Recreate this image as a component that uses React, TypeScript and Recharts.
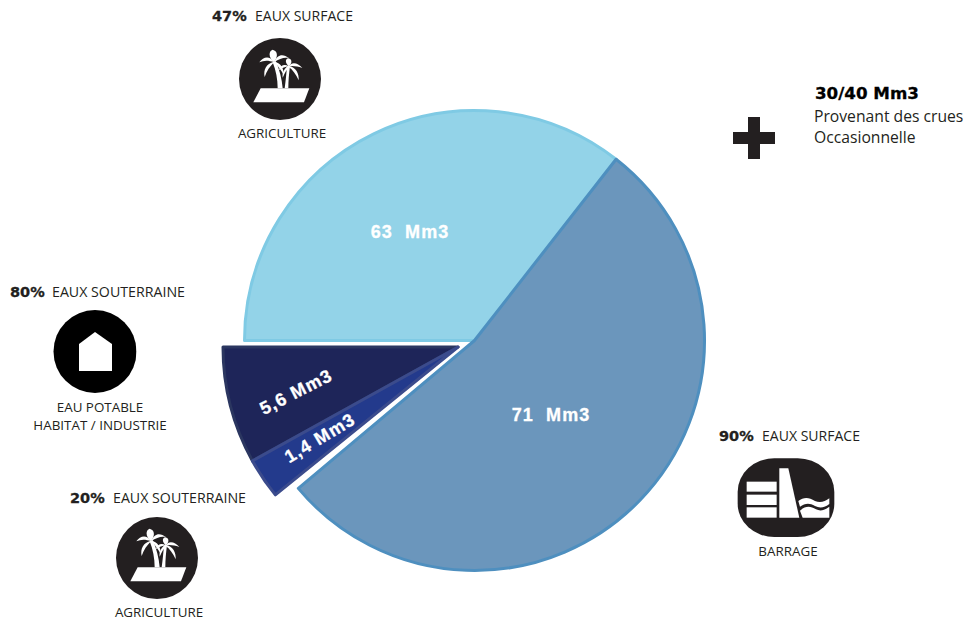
import * as React from "react"
import { Pie, PieChart, Cell } from "recharts"

// slice sweeps are read off the picture (degrees drawn), the drawing is not to scale with its labels
const mainNames = ["63  Mm3", "71  Mm3"]
const mainSweeps = [128, 192]
const mainFills = ["#93d3e8", "#6b96bc"]
const mainStrokes = ["#7fcae4", "#4e8fbf"]

const detachedNames = ["5,6 Mm3", "1,4 Mm3"]
const detachedSweeps = [29, 10]
const detachedFills = ["#1e2559", "#233a8c"]
const detachedStrokes = ["#2b3660", "#3b4b8c"]

const mainData = mainNames.map((name, i) => ({ name, value: mainSweeps[i] }))
const detachedData = detachedNames.map((name, i) => ({ name, value: detachedSweeps[i] }))

const INK = "#231f20"
const BODY_FONT = "'Open Sans', 'Noto Sans', sans-serif"
const HEAVY_FONT = "'DejaVu Sans', sans-serif"
const LABEL_FONT = "'Liberation Sans', Arial, sans-serif"

function Caption({ pctX, textX, y, pct, text }: { pctX: number; textX: number; y: number; pct: string; text: string }) {
  return (
    <>
      <text x={pctX} y={y} fontFamily={HEAVY_FONT} fontWeight={700} fontSize={14.5} fill={INK} stroke={INK} strokeWidth={0.3}>{pct}</text>
      <text x={textX} y={y} fontFamily={BODY_FONT} fontSize={14} fill={INK} textLength={text.length > 12 ? 133 : 98} lengthAdjust="spacingAndGlyphs">{text}</text>
    </>
  )
}

function Centered({ x, y, text }: { x: number; y: number; text: string }) {
  return <text x={x} y={y} textAnchor="middle" fontFamily={BODY_FONT} fontSize={13.4} fill={INK}>{text}</text>
}

// palm icon, path coordinates are the 3x zoom of the icon relative to its center
function PalmIcon({ cx, cy }: { cx: number; cy: number }) {
  return (
    <g transform={`translate(${cx} ${cy})`}>
      <circle r={41} fill={INK} />
      <g transform="scale(0.3333)" fill="#fff">
        <polygon points="-80,70 -58,28 88,28 72,70" />
        <path d="M-7,28 L8,28 C6,0 -2,-30 -13,-54 L-22,-50 C-12,-25 -7,0 -7,28 Z" />
        <path d="M14,28 L25,28 C25,5 27,-15 30,-38 L21,-38 C19,-15 17,8 14,28 Z" />
        <path d="M-18,-50 C-32,-72 -50,-66 -62,-50 C-48,-56 -34,-56 -18,-50 Z" />
        <path d="M-18,-50 C-36,-66 -34,-84 -22,-88 C-8,-84 -4,-70 -18,-50 Z" />
        <path d="M-18,-50 C-8,-76 10,-76 27,-63 C12,-66 0,-62 -18,-50 Z" />
        <path d="M-18,-52 C-42,-46 -50,-28 -46,-6 C-40,-24 -30,-38 -18,-50 Z" />
        <path d="M-18,-52 C2,-50 12,-32 12,-10 C4,-26 -6,-40 -18,-50 Z" />
        <path d="M26,-38 C14,-46 2,-42 -4,-26 C8,-34 16,-36 26,-38 Z" />
        <path d="M26,-38 C14,-50 16,-60 25,-62 C36,-60 38,-48 26,-38 Z" />
        <path d="M26,-38 C36,-54 54,-48 67,-33 C52,-38 40,-40 26,-38 Z" />
        <path d="M26,-40 C48,-36 58,-16 56,4 C48,-14 38,-28 26,-36 Z" />
        <path d="M26,-40 C12,-32 6,-18 8,-4 C14,-18 20,-28 28,-36 Z" />
      </g>
    </g>
  )
}

function HouseIcon() {
  return (
    <g>
      <clipPath id="houseClip"><rect x={50} y={305} width={86.5} height={95} /></clipPath>
      <circle cx={95} cy={351.5} r={41.5} fill="#000" clipPath="url(#houseClip)" />
      <polygon points="95,332 112,344 112,371 79,371 79,344" fill="#fff" />
    </g>
  )
}

function DamIcon() {
  return (
    <g transform="translate(700 420) scale(0.3333)">
      <rect x={113} y={115} width={290} height={236} rx={110} ry={100} fill={INK} />
      <g fill="#fff">
        <rect x={140} y={185} width={90} height={30} />
        <rect x={140} y={224} width={90} height={31} />
        <rect x={140} y={262} width={90} height={31} />
        <polygon points="238,145 265,145 298,293 238,293" />
        <path d="M295,243 C310,232 325,230 345,243 C360,250 375,245 388,235 L388,252 C375,262 360,266 345,258 C328,248 315,250 300,260 Z" />
        <path d="M300,272 C315,258 330,256 348,268 C362,275 375,270 388,260 L388,293 L308,293 Z" />
      </g>
    </g>
  )
}

function SliceLabel({ x, y, angle, text }: { x: number; y: number; angle?: number; text: string }) {
  return (
    <text
      x={x}
      y={y}
      textAnchor="middle"
      dominantBaseline="central"
      transform={angle ? `rotate(${angle} ${x} ${y})` : undefined}
      fontFamily={LABEL_FONT}
      fontWeight={700}
      fontSize={18}
      fill="#fff"
      stroke="#fff"
      strokeWidth={0.3}
      style={{ whiteSpace: "pre", letterSpacing: 1.1 }}
    >
      {text}
    </text>
  )
}

export default function App() {
  return (
    <div style={{ position: "absolute", left: 0, top: 0, width: 971, height: 623, background: "#fff", overflow: "hidden" }}>
      <PieChart width={971} height={623} margin={{ top: 0, right: 0, bottom: 0, left: 0 }}>
        <Pie
          data={mainData}
          dataKey="value"
          nameKey="name"
          cx={474.5}
          cy={340.5}
          innerRadius={0}
          outerRadius={230}
          startAngle={180}
          endAngle={-140}
          isAnimationActive={false}
          label={false}
          labelLine={false}
        >
          {mainData.map((d, i) => (
            <Cell key={d.name} fill={mainFills[i]} stroke={mainStrokes[i]} strokeWidth={3} strokeLinejoin="round" />
          ))}
        </Pie>
        <Pie
          data={detachedData}
          dataKey="value"
          nameKey="name"
          cx={458}
          cy={347}
          innerRadius={0}
          outerRadius={235}
          startAngle={180}
          endAngle={219}
          isAnimationActive={false}
          label={false}
          labelLine={false}
        >
          {detachedData.map((d, i) => (
            <Cell key={d.name} fill={detachedFills[i]} stroke={detachedStrokes[i]} strokeWidth={3} strokeLinejoin="round" />
          ))}
        </Pie>
      </PieChart>

      <svg width={971} height={623} style={{ position: "absolute", left: 0, top: 0, pointerEvents: "none" }}>
        <SliceLabel x={410} y={232} text={mainNames[0]} />
        <SliceLabel x={551} y={415} text={mainNames[1]} />
        <SliceLabel x={296} y={392} angle={-27} text={detachedNames[0]} />
        <SliceLabel x={320} y={438} angle={-31} text={detachedNames[1]} />

        <Caption pctX={212} textX={255} y={21} pct="47%" text="EAUX SURFACE" />
        <PalmIcon cx={280} cy={79} />
        <Centered x={282} y={138} text="AGRICULTURE" />

        <Caption pctX={10} textX={52} y={297} pct="80%" text="EAUX SOUTERRAINE" />
        <HouseIcon />
        <Centered x={100} y={412} text="EAU POTABLE" />
        <Centered x={100} y={430} text="HABITAT / INDUSTRIE" />

        <Caption pctX={70} textX={113} y={503} pct="20%" text="EAUX SOUTERRAINE" />
        <PalmIcon cx={157} cy={558} />
        <Centered x={159} y={617} text="AGRICULTURE" />

        <Caption pctX={719} textX={762} y={441} pct="90%" text="EAUX SURFACE" />
        <DamIcon />
        <Centered x={788} y={556} text="BARRAGE" />

        <rect x={733} y={132} width={42} height={12} fill={INK} />
        <rect x={748} y={117} width={12} height={42} fill={INK} />
        <text x={815} y={99} fontFamily={HEAVY_FONT} fontWeight={700} fontSize={16.7} fill="#000" stroke="#000" strokeWidth={0.3}>30/40 Mm3</text>
        <text x={814} y={122} fontFamily={BODY_FONT} fontSize={15.7} fill={INK}>Provenant des crues</text>
        <text x={814} y={143} fontFamily={BODY_FONT} fontSize={15.7} fill={INK}>Occasionnelle</text>
      </svg>
    </div>
  )
}
